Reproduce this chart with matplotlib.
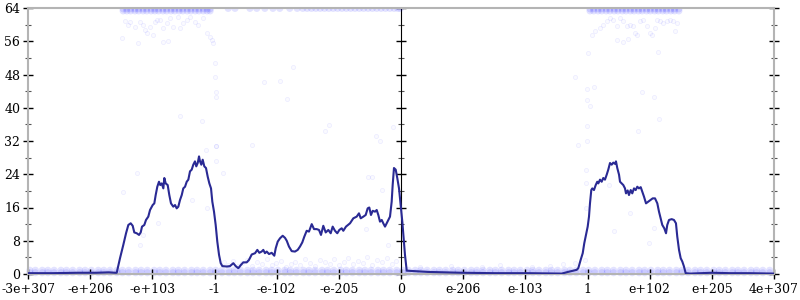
import matplotlib

matplotlib.use("Agg")
import matplotlib.pyplot as plt
from matplotlib.ticker import MultipleLocator

plt.rcParams["font.family"] = "DejaVu Serif"

# x = ordinal position of the float, one tick step = 1 unit
tick_pos = [-6, -5, -4, -3, -2, -1, 0, 1, 2, 3, 4, 5, 6]
tick_labels = ["-3e+307", "-e+206", "-e+103", "-1", "-e-102", "-e-205", "0",
               "e-206", "e-103", "1", "e+102", "e+205", "4e+307"]

# average bits of error
line_x = [
    -6.0, -5.6, -5.2, -4.9, -4.7, -4.6,
    -4.573, -4.520, -4.467, -4.423, -4.386, -4.348, -4.316, -4.290, -4.251, -4.214,
    -4.187, -4.166, -4.129, -4.102, -4.065, -4.037, -3.994, -3.968, -3.946, -3.920,
    -3.893, -3.872, -3.849, -3.823, -3.807, -3.785, -3.753, -3.727, -3.700, -3.663,
    -3.635, -3.608, -3.582, -3.555, -3.527, -3.502, -3.474, -3.447, -3.421, -3.394,
    -3.367, -3.341, -3.314, -3.293, -3.270, -3.249, -3.233, -3.212, -3.190, -3.164,
    -3.137, -3.109, -3.083, -3.056, -3.035, -3.008, -2.981, -2.955, -2.927, -2.900,
    -2.874, -2.804, -2.751, -2.697, -2.659, -2.617, -2.574, -2.537, -2.482, -2.445,
    -2.401, -2.348, -2.311, -2.279, -2.241, -2.215, -2.188, -2.160, -2.123, -2.080,
    -2.038, -2.015, -1.983, -1.946, -1.903, -1.866, -1.838, -1.802, -1.758, -1.705,
    -1.662, -1.625, -1.588, -1.555, -1.517, -1.480, -1.436, -1.399, -1.356, -1.319,
    -1.287, -1.250, -1.211, -1.169, -1.131, -1.099, -1.062, -1.025, -0.992, -0.954,
    -0.928, -0.885, -0.820, -0.767, -0.713, -0.676, -0.648, -0.606, -0.568, -0.536,
    -0.510, -0.483, -0.455, -0.418, -0.391, -0.365, -0.338, -0.310, -0.285, -0.257,
    -0.230, -0.204, -0.177, -0.150, -0.134, -0.113, -0.085, -0.060, -0.032, -0.005,
    0.021, 0.043, 0.064, 0.092,
    0.20, 0.434, 0.976, 1.512, 2.043, 2.585, 2.686, 2.826,
    2.852, 2.890, 2.923, 2.948, 2.976, 3.003, 3.024, 3.040, 3.061, 3.077,
    3.104, 3.132, 3.157, 3.174, 3.201, 3.228, 3.254, 3.281, 3.309, 3.334,
    3.362, 3.389, 3.415, 3.442, 3.458, 3.479, 3.507, 3.523, 3.550, 3.576,
    3.603, 3.619, 3.646, 3.667, 3.695, 3.720, 3.748, 3.775, 3.801, 3.828,
    3.856, 3.881, 3.909, 3.941, 3.978, 4.016, 4.049, 4.086, 4.123, 4.150,
    4.177, 4.203, 4.235, 4.263, 4.283, 4.311, 4.354, 4.391, 4.423, 4.444,
    4.472, 4.499, 4.525, 4.552, 4.579, 4.649, 5.0, 5.3, 5.6, 6.0,
]
line_bits = [
    0.2, 0.2, 0.3, 0.3, 0.4, 0.3,
    0.3, 3.8, 7.0, 9.8, 11.8, 12.2, 11.6, 10.0, 9.8, 9.4,
    10.0, 11.4, 11.8, 13.0, 13.8, 15.4, 16.6, 17.0, 19.0, 21.0,
    22.2, 21.4, 21.8, 20.6, 23.1, 21.8, 21.4, 19.0, 17.0, 16.2,
    16.6, 15.8, 16.2, 17.8, 19.0, 20.6, 21.0, 22.2, 22.7, 24.7,
    25.1, 26.3, 27.1, 25.9, 26.7, 28.3, 27.1, 26.3, 27.5, 25.9,
    25.5, 23.4, 21.8, 20.6, 17.4, 15.0, 11.8, 7.8, 4.6, 2.6,
    1.9, 1.8, 1.9, 2.6, 1.9, 1.4, 2.2, 2.8, 2.8, 3.4,
    4.7, 5.0, 5.8, 5.1, 5.4, 5.8, 5.0, 5.4, 4.8, 5.1,
    4.4, 6.2, 7.8, 8.6, 9.2, 8.7, 8.0, 6.6, 5.5, 5.4,
    5.8, 6.6, 7.6, 9.0, 10.4, 10.2, 12.0, 10.8, 10.8, 10.6,
    9.4, 11.6, 10.0, 10.6, 9.8, 11.4, 10.4, 9.8, 10.6, 11.0,
    10.4, 11.4, 12.2, 13.4, 13.8, 14.6, 13.4, 13.8, 14.2, 15.8,
    16.0, 14.2, 15.2, 15.0, 15.4, 14.2, 12.6, 13.0, 12.2, 11.4,
    12.2, 13.0, 13.8, 17.4, 21.4, 25.5, 25.1, 23.1, 20.6, 16.6,
    12.6, 8.6, 4.6, 0.8,
    0.7, 0.5, 0.3, 0.2, 0.2, 0.1, 0.5, 1.0,
    1.4, 3.4, 5.0, 7.4, 9.4, 11.4, 13.8, 17.0, 20.2, 20.6,
    20.2, 21.4, 22.2, 21.8, 22.7, 22.2, 23.1, 22.7, 23.9, 25.1,
    26.7, 26.3, 26.8, 26.5, 27.1, 25.5, 23.9, 22.2, 21.8, 21.4,
    20.6, 19.4, 20.1, 19.0, 20.2, 19.4, 20.6, 20.2, 21.0, 20.6,
    20.9, 19.8, 18.6, 17.0, 17.4, 17.8, 18.2, 18.2, 17.0, 15.0,
    13.4, 11.8, 11.0, 9.8, 11.8, 13.0, 13.2, 13.0, 12.2, 9.0,
    5.8, 3.8, 3.0, 1.8, 0.2, 0.1, 0.3, 0.2, 0.2, 0.1,
]

# dense rows of sample points with 0 and 1 bits of error
band_x = [
    -5.97, -5.88, -5.77, -5.68, -5.58, -5.47, -5.38, -5.28, -5.17, -5.08,
    -4.98, -4.87, -4.78, -4.68, -4.57, -4.48, -4.38, -4.27, -4.18, -4.08,
    -3.97, -3.88, -3.78, -3.67, -3.58, -3.48, -3.37, -3.28, -3.18, -3.07,
    -2.98, -2.88, -2.77, -2.68, -2.58, -2.47, -2.38, -2.28, -2.17, -2.08,
    -1.98, -1.87, -1.78, -1.68, -1.57, -1.48, -1.38, -1.27, -1.18, -1.08,
    -0.97, -0.88, -0.78, -0.67, -0.58, -0.48, -0.37, -0.28, -0.18, -0.07,
    0.03, 0.12, 0.23, 0.32, 0.42, 0.53, 0.62, 0.72, 0.83, 0.92,
    1.02, 1.13, 1.22, 1.32, 1.43, 1.52, 1.62, 1.73, 1.82, 1.92,
    2.03, 2.12, 2.22, 2.33, 2.42, 2.52, 2.63, 2.72, 2.82, 2.93,
    3.02, 3.12, 3.23, 3.32, 3.42, 3.53, 3.62, 3.72, 3.83, 3.92,
    4.02, 4.13, 4.22, 4.32, 4.43, 4.52, 4.62, 4.73, 4.82, 4.92,
    5.03, 5.12, 5.22, 5.33, 5.42, 5.52, 5.63, 5.72, 5.82, 5.93,
]
band_rows = [0.3, 0.9]

# faint points a few bits up
low_x = [
    -2.85, -2.78, -2.70, -2.62, -2.55, -2.47, -2.40, -2.31, -2.24, -2.16,
    -2.08, -2.01, -1.93, -1.85, -1.77, -1.70, -1.62, -1.54, -1.46, -1.39,
    -1.31, -1.23, -1.15, -1.08, -1.00, -0.92, -0.85, -0.77, -0.69, -0.61,
    -0.54, -0.46, -0.38, -0.31, -0.23, -0.15, -0.08,
    0.30, 0.80, 1.30, 1.60, 2.10, 2.40, 2.60, 2.80, 2.96,
]
low_bits = [
    2.8, 2.2, 3.1, 1.9, 2.6, 3.4, 2.0, 2.9, 2.4, 3.6,
    2.1, 2.7, 3.2, 1.8, 2.5, 3.0, 2.2, 3.7, 2.6, 2.0,
    3.3, 2.8, 2.3, 3.5, 2.1, 2.9, 3.8, 2.4, 3.1, 2.6,
    4.0, 2.2, 3.4, 2.9, 3.9, 2.5, 3.2,
    1.8, 2.0, 1.7, 2.2, 1.6, 1.9, 2.5, 2.6, 3.4,
]

# rows of points at 63-64 bits
top_left_x = [
    -4.47, -4.41, -4.35, -4.28, -4.22, -4.15, -4.09, -4.02, -3.96, -3.90,
    -3.83, -3.77, -3.70, -3.64, -3.57, -3.51, -3.44, -3.38, -3.31, -3.25,
    -3.18, -3.12, -3.07,
]
top_mid_x = [
    -2.78, -2.67, -2.43, -2.32, -2.19, -2.06, -1.95, -1.79, -1.67, -1.58,
    -1.51, -1.44, -1.37, -1.30, -1.23, -1.16, -1.09, -1.02, -0.95, -0.88,
    -0.81, -0.74, -0.67, -0.60, -0.53, -0.46, -0.39, -0.32, -0.25, -0.18,
    -0.11, -0.05, -0.01,
]
top_right_x = [
    3.04, 3.10, 3.17, 3.23, 3.30, 3.36, 3.43, 3.49, 3.56, 3.62,
    3.69, 3.75, 3.82, 3.88, 3.95, 4.01, 4.08, 4.14, 4.21, 4.27,
    4.34, 4.40, 4.47,
]
top_rows = [63.8, 63.3]

# scattered points elsewhere
spread_x = [
    -4.439, -4.386, -4.359, -4.279, -4.198, -4.145, -4.118, -4.091, -4.037, -3.957,
    -3.930, -3.876, -3.823, -3.769, -3.716, -3.663, -3.582, -3.555, -3.502, -3.447,
    -3.394, -3.314, -3.260, -3.180, -3.125, -3.072, -3.045, -3.019, -4.493, -4.225,
    -3.823, -3.743, -3.984,
    -2.992, -2.992, -2.981, -2.981, -3.555, -3.196, -2.199, -1.946, -1.732, -1.829,
    -1.222, -1.153, -0.407, -0.338, -0.124, -2.401, -2.981,
    -4.251, -4.467, -3.904, -4.198, -4.145, -3.367, -3.125, -3.137, -2.976, -2.976,
    -2.868, -0.526, -0.462, -0.310, -0.204, -0.563,
    3.067, 3.120, 3.201, 3.254, 3.309, 3.362, 3.415, 3.469, 3.523, 3.576,
    3.630, 3.683, 3.737, 3.791, 3.844, 3.897, 3.952, 4.005, 4.033, 4.086,
    4.113, 4.166, 4.219, 4.274, 4.327, 4.380, 4.407, 4.435, 3.469, 3.576,
    3.656, 3.764,
    3.013, 2.799, 2.987, 3.104, 2.997, 3.040, 2.987, 2.852, 2.987, 4.139,
    3.872, 4.074, 4.150, 3.817,
    2.976, 2.976, 3.351, 2.976, 3.683, 3.426, 4.074, 3.994,
]
spread_bits = [
    60.9, 59.9, 60.6, 59.5, 60.7, 59.9, 58.7, 57.9, 59.5, 60.7,
    61.1, 61.1, 59.1, 60.3, 61.5, 59.5, 61.9, 59.1, 60.3, 61.1,
    61.9, 60.7, 59.9, 61.5, 57.9, 57.1, 56.3, 55.5, 56.7, 55.5,
    55.9, 56.1, 57.5,
    50.8, 47.5, 43.9, 42.7, 38.1, 36.7, 46.2, 46.5, 49.7, 42.1,
    34.3, 35.9, 33.1, 32.1, 35.3, 31.1, 30.8,
    24.3, 19.8, 12.2, 7.0, 9.4, 17.8, 15.8, 29.9, 30.7, 27.1,
    24.3, 23.4, 23.4, 20.2, 7.0, 10.8,
    57.6, 58.4, 59.2, 60.0, 60.8, 61.6, 61.2, 59.6, 61.6, 60.8,
    59.6, 60.0, 59.6, 57.6, 60.8, 61.2, 59.6, 58.0, 57.6, 59.2,
    61.2, 60.8, 60.4, 60.8, 61.2, 60.8, 58.4, 60.4, 56.4, 55.8,
    56.6, 58.0,
    53.2, 47.5, 44.5, 45.0, 41.9, 40.5, 35.5, 31.1, 31.9, 53.4,
    43.8, 42.5, 37.3, 34.3,
    25.1, 21.8, 21.4, 15.8, 14.6, 10.4, 11.0, 7.5,
]

LINE = "#2a2a94"
AXIS = "#b4b4b4"

fig = plt.figure(figsize=(8, 3), dpi=100)
fig.patch.set_facecolor("white")
ax = fig.add_axes([28 / 800, 26 / 300, 746 / 800, 266 / 300])

pt = dict(s=9, facecolors=(0, 0, 1, 0.02), edgecolors=(0, 0, 1, 0.06), linewidths=0.6)
ax.scatter(spread_x, spread_bits, **pt)
ax.scatter(low_x, low_bits, **pt)

dense = dict(s=26, facecolors=(0, 0, 1, 0.11), edgecolors="none")
for b in band_rows:
    ax.scatter(band_x, [b] * len(band_x), clip_on=False, **dense)
for b in top_rows:
    ax.scatter(top_left_x, [b] * len(top_left_x), **dense)
    ax.scatter(top_right_x, [b] * len(top_right_x), **dense)
ax.scatter(top_mid_x, [63.9] * len(top_mid_x), **dense)

ax.plot(line_x, line_bits, color=LINE, lw=1.5, zorder=3, solid_joinstyle="round")

ax.set_xlim(-6, 6)
ax.set_ylim(0, 64)
ax.set_xticks(tick_pos)
ax.set_xticklabels(tick_labels)
ax.yaxis.set_major_locator(MultipleLocator(8))
ax.yaxis.set_minor_locator(MultipleLocator(4))

for side in ["left", "right", "top", "bottom"]:
    ax.spines[side].set_color(AXIS)
    ax.spines[side].set_linewidth(1.5)

ax.tick_params(axis="both", which="major", direction="inout", length=7, width=1,
               color="black", labelsize=9, pad=2)
ax.tick_params(axis="y", which="both", right=True)
ax.tick_params(axis="y", which="minor", direction="inout", length=4, width=0.8, color="#555555")
ax.tick_params(axis="x", pad=3)

# axis through x = 0
mid = ax.secondary_yaxis(0.5)
mid.yaxis.set_major_locator(MultipleLocator(8))
mid.yaxis.set_minor_locator(MultipleLocator(4))
mid.spines["left"].set_color(AXIS)
mid.spines["left"].set_linewidth(1.5)
mid.tick_params(which="major", direction="inout", length=7, width=1, color="black",
                labelleft=False, labelright=False)
mid.tick_params(which="minor", direction="inout", length=4, width=0.8, color="#555555")

fig.savefig("out.png", dpi=100)
